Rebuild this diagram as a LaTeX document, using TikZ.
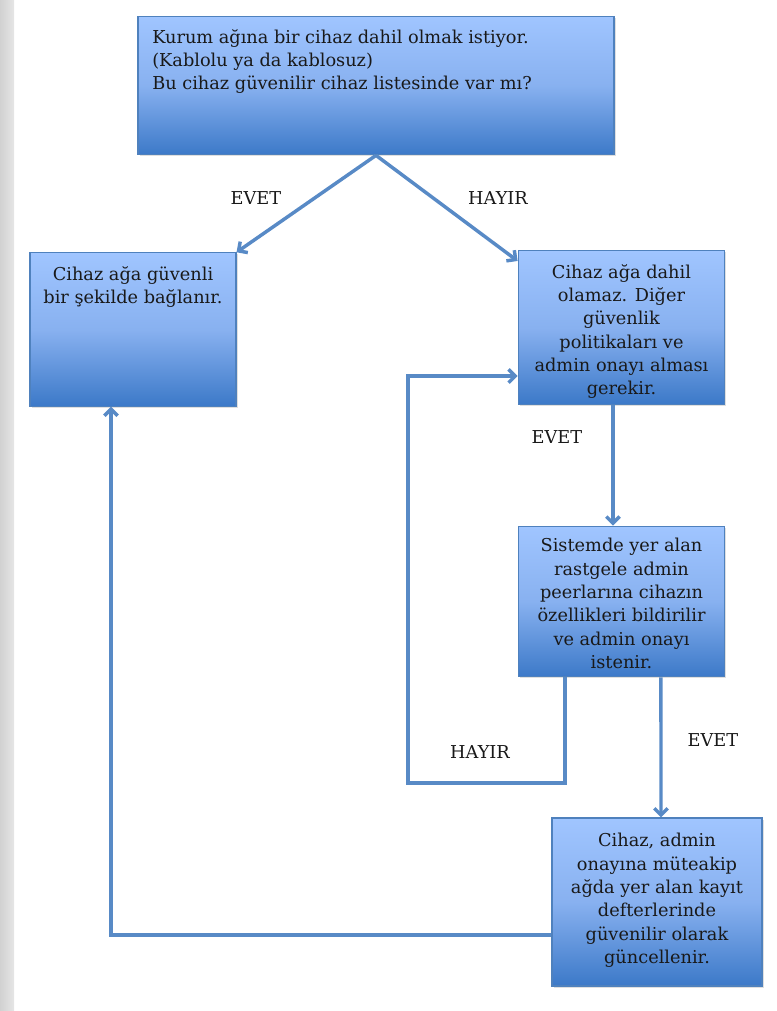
\documentclass[tikz,border=0pt]{standalone}
\usepackage{fontspec}
\setmainfont{DejaVu Serif}
\usetikzlibrary{arrows.meta,shadows}

\definecolor{boxtop}{RGB}{160,197,255}
\definecolor{boxmid}{RGB}{136,177,240}
\definecolor{boxbot}{RGB}{60,121,200}
\definecolor{boxline}{RGB}{79,129,189}
\definecolor{flowline}{RGB}{88,138,198}

\tikzset{
  stepbox/.style={draw=boxline, line width=0.8pt, inner sep=0pt,
    top color=boxtop, bottom color=boxbot, middle color=boxmid,
    drop shadow={opacity=0.25, shadow xshift=1.2pt, shadow yshift=-1.2pt}},
  boxtext/.style={anchor=north, align=center, inner sep=0pt, text=black!90,
    font=\fontsize{13.3}{17.5}\selectfont},
  answer/.style={text=black!90, font=\fontsize{13.3}{15}\selectfont},
  flow/.style={draw=flowline, line width=2.6pt,
    -{Straight Barb[length=5pt,width=10pt]}}
}

\begin{document}
\begin{tikzpicture}[x=0.75pt,y=-0.75pt]
    \useasboundingbox (0,0) rectangle (776,1011);
    \fill[left color=black!18, right color=black!10] (0,0) rectangle (14,1011);

    % boxes
    \node[stepbox, minimum width=357pt, minimum height=104pt] (ask) at (376,85.5) {};
    \node[stepbox, minimum width=154.5pt, minimum height=115pt] (ok) at (133,329.5) {};
    \node[stepbox, minimum width=155pt, minimum height=115pt] (deny) at (621.5,327.5) {};
    \node[stepbox, minimum width=155pt, minimum height=113pt] (peers) at (621.5,601.5) {};
    \node[stepbox, minimum width=157.5pt, minimum height=126pt] (record) at (657,902) {};

    % texts
    \node[boxtext, anchor=north west, align=left] (asktext) at (152,29)
        {Kurum ağına bir cihaz dahil olmak istiyor.\\(Kablolu ya da kablosuz)\\Bu cihaz güvenilir cihaz listesinde var mı?};
    \node[boxtext] (oktext) at (133,266) {Cihaz ağa güvenli\\bir şekilde bağlanır.};
    \node[boxtext] (denytext) at (621.5,264)
        {Cihaz ağa dahil\\olamaz. Diğer\\güvenlik\\politikaları ve\\admin onayı alması\\gerekir.};
    \node[boxtext] (peerstext) at (621.5,538)
        {Sistemde yer alan\\rastgele admin\\peerlarına cihazın\\özellikleri bildirilir\\ve admin onayı\\istenir.};
    \node[boxtext] (recordtext) at (657,833)
        {Cihaz, admin\\onayına müteakip\\ağda yer alan kayıt\\defterlerinde\\güvenilir olarak\\güncellenir.};

    % answers
    \node[answer] (yes1) at (256,198) {EVET};
    \node[answer] (no1) at (498,198) {HAYIR};
    \node[answer] (yes2) at (557,437) {EVET};
    \node[answer] (no2) at (480,752) {HAYIR};
    \node[answer] (yes3) at (713,740) {EVET};

    \coordinate (loop) at (408,783);

    % connectors
    \draw[flow] (ask.south) -- (ok.north east);
    \draw[flow] (ask.south) -- ([yshift=-8pt]deny.north west);
    \draw[flow] ([xshift=-6.4pt]deny.south) -- ([xshift=-6.4pt]peers.north);
    \draw[flow] ([xshift=29.6pt]peers.south) -- ([xshift=3pt]record.north);
    \draw[flow] ([xshift=-42.4pt]peers.south) |- (loop) |- ([yshift=-36.4pt]deny.west);
    \draw[flow] ([yshift=-24.75pt]record.west) -| ([xshift=-16.5pt]ok.south);
\end{tikzpicture}
\end{document}
